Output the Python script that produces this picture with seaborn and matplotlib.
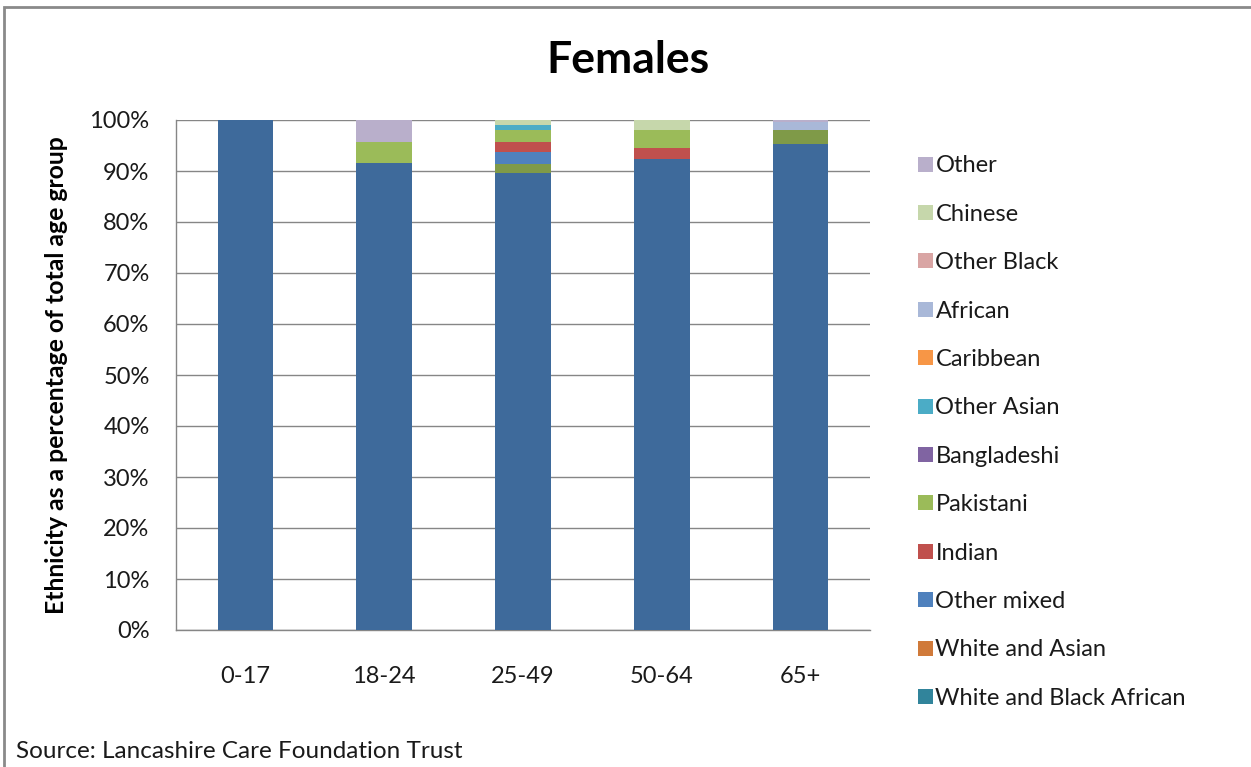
import numpy as np
import pandas as pd
import matplotlib
matplotlib.use("Agg")
import matplotlib.pyplot as plt
from matplotlib.patches import Patch, Rectangle
from matplotlib.ticker import PercentFormatter
import seaborn as sns

sns.set_style("white")
plt.rcParams["font.family"] = ["Lato", "DejaVu Sans"]

# Age groups and ethnicity shares (% of each age group), bottom to top
age_groups = ["0-17", "18-24", "25-49", "50-64", "65+"]

white_british = [100.0, 91.5, 89.7, 92.4, 95.3]
white_irish = [0.0, 0.0, 0.0, 0.0, 0.0]
other_white = [0.0, 0.0, 1.7, 0.0, 2.8]
white_black_caribbean = [0.0, 0.0, 0.0, 0.0, 0.0]
white_black_african = [0.0, 0.0, 0.0, 0.0, 0.0]
white_asian = [0.0, 0.0, 0.0, 0.0, 0.0]
other_mixed = [0.0, 0.0, 2.4, 0.0, 0.0]
indian = [0.0, 0.0, 1.8, 2.1, 0.0]
pakistani = [0.0, 4.2, 2.5, 3.6, 0.0]
bangladeshi = [0.0, 0.0, 0.0, 0.0, 0.0]
other_asian = [0.0, 0.0, 1.0, 0.0, 0.0]
caribbean = [0.0, 0.0, 0.0, 0.0, 0.0]
african = [0.0, 0.0, 0.0, 0.0, 1.6]
other_black = [0.0, 0.0, 0.0, 0.0, 0.0]
chinese = [0.0, 0.0, 0.9, 1.9, 0.0]
other = [0.0, 4.3, 0.0, 0.0, 0.3]

series = [
    ("White British", white_british, "#3E6A9B"),
    ("White Irish", white_irish, "#9B3B38"),
    ("Other White", other_white, "#7F9A48"),
    ("White and Black Caribbean", white_black_caribbean, "#604A7B"),
    ("White and Black African", white_black_african, "#31849B"),
    ("White and Asian", white_asian, "#D07A3A"),
    ("Other mixed", other_mixed, "#4F81BD"),
    ("Indian", indian, "#C0504D"),
    ("Pakistani", pakistani, "#9BBB59"),
    ("Bangladeshi", bangladeshi, "#8064A2"),
    ("Other Asian", other_asian, "#4BACC6"),
    ("Caribbean", caribbean, "#F79646"),
    ("African", african, "#A9B8D8"),
    ("Other Black", other_black, "#D9A5A4"),
    ("Chinese", chinese, "#C6D7AB"),
    ("Other", other, "#B9AFCB"),
]
# Entries shown in the key (top of the key = top of the stack)
legend_names = ["Other", "Chinese", "Other Black", "African", "Caribbean",
                "Other Asian", "Bangladeshi", "Pakistani", "Indian",
                "Other mixed", "White and Asian", "White and Black African"]

fig = plt.figure(figsize=(12.51, 7.67), dpi=100)
ax = fig.add_axes([176 / 1251, 1 - 630 / 767, (870 - 176) / 1251, 510 / 767])

grid_c = "#868686"
txt_c = "#1a1a1a"
bottom = np.zeros(len(age_groups))
for name, vals, col in series:
    df = pd.DataFrame({"age": age_groups, "pct": vals})
    sns.barplot(data=df, x="age", y="pct", color=col, bottom=bottom,
                width=0.4, ax=ax, saturation=1, linewidth=0, zorder=3)
    bottom = bottom + np.array(vals)

ax.set_xlim(-0.5, len(age_groups) - 0.5)
ax.set_ylim(0, 100)
ax.set_yticks(np.arange(0, 101, 10))
ax.yaxis.set_major_formatter(PercentFormatter(decimals=0))
ax.yaxis.grid(True, color=grid_c, linewidth=1.0, zorder=0)
ax.set_axisbelow(True)
for s in ["top", "right"]:
    ax.spines[s].set_visible(False)
for s in ["left", "bottom"]:
    ax.spines[s].set_color(grid_c)
    ax.spines[s].set_linewidth(1.0)

# category boundary ticks on the x axis
ax.set_xticks(np.arange(len(age_groups)))
ax.set_xticks(np.arange(-0.5, len(age_groups), 1), minor=True)
ax.tick_params(axis="x", which="major", length=0, pad=26, labelsize=17,
               labelcolor=txt_c)
ax.tick_params(axis="x", which="minor", length=7, color=grid_c, width=1.0,
               direction="out")
ax.tick_params(axis="y", length=8, color=grid_c, width=1.0, direction="out",
               labelsize=17, labelcolor=txt_c, pad=11)
ax.set_xlabel("")
ax.set_ylabel("Ethnicity as a percentage of total age group", fontsize=17.8,
              fontweight="bold", color="#000000")
ax.yaxis.set_label_coords((68 - 176) / 694, 0.5)

fig.text(628 / 1251, 1 - 60 / 767, "Females", ha="center", va="center",
         fontsize=32, fontweight="bold", color="#000000")
fig.text(16 / 1251, 1 - 752 / 767, "Source: Lancashire Care Foundation Trust",
         ha="left", va="center", fontsize=17.5, color=txt_c)

color_of = {n: c for n, _, c in series}
handles = [Patch(facecolor=color_of[n], edgecolor="none", label=n)
           for n in legend_names]
fig.legend(handles=handles, loc="upper left",
           bbox_to_anchor=(909 / 1251, 1 - 146 / 767), frameon=False,
           fontsize=17, handlelength=0.6, handleheight=0.6,
           handletextpad=0.12, labelspacing=1.16, borderaxespad=0,
           labelcolor=txt_c)

# chart frame
fig.patches.append(Rectangle((4 / 1251, -0.05), 1.1, 1 - 7 / 767 + 0.05,
                             transform=fig.transFigure, fill=False,
                             edgecolor="#8a8a8a", linewidth=2.0))

fig.savefig("out.png", dpi=100)
